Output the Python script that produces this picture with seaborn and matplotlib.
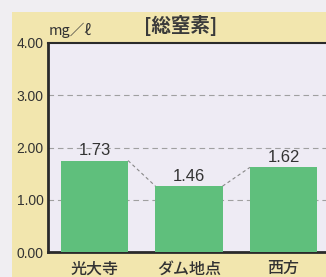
import matplotlib
matplotlib.use("Agg")
import matplotlib.pyplot as plt
import matplotlib.patches as mpatches
import seaborn as sns
import pandas as pd

# ---- data ----
categories = ["光大寺", "ダム地点", "西方"]
bar_heights = [1.75, 1.26, 1.62]          # bar heights as drawn in the reference
value_labels = ["1.73", "1.46", "1.62"]    # printed values
y_ticks = [0.0, 1.0, 2.0, 3.0, 4.0]
y_tick_labels = ["0.00", "1.00", "2.00", "3.00", "4.00"]
title = "[総窒素]"
unit = "mg／ℓ"

sns.set_theme(style="white")
plt.rcParams['font.family'] = ['Liberation Sans', 'Noto Sans CJK JP', 'DejaVu Sans']

df = pd.DataFrame({"site": categories, "value": bar_heights})

fig = plt.figure(figsize=(3.26, 2.77), dpi=100)
fig.patch.set_facecolor("#f0eef2")
# beige panel
fig.patches.append(mpatches.Rectangle((12/326, 0), 1, 265/277, transform=fig.transFigure,
                                      facecolor="#f2e6ae", edgecolor="none", zorder=-5))

ax = fig.add_axes([48/326, 25/277, 1 - 48/326, 209/277])
ax.set_zorder(1)
ax.set_facecolor("#eeebf4")

w = 0.71
sns.barplot(data=df, x="site", y="value", color="#5fbf7c", width=w,
            saturation=1, ax=ax, zorder=3, edgecolor="none", linewidth=0)

# dashed connectors between bar tops
for i in range(len(bar_heights) - 1):
    ax.plot([i + w/2, i + 1 - w/2], [bar_heights[i], bar_heights[i+1]],
            linestyle=(0, (3, 2.5)), color="#888888", linewidth=0.8, zorder=2)

for i, (h, lab) in enumerate(zip(bar_heights, value_labels)):
    ax.annotate(lab, (i, h), xytext=(0, 1.5), textcoords="offset points",
                ha="center", va="bottom", fontsize=12, color="#333333", zorder=4)

ax.set_ylim(0, 4)
ax.set_xlim(-0.492, 2.45)
ax.set_yticks(y_ticks)
ax.set_yticklabels(y_tick_labels, fontsize=10, color="#333333")
for yv in y_ticks[1:-1]:
    ax.axhline(yv, linestyle=(0, (5, 3.5)), color="#a0a0a0", linewidth=0.8, zorder=1)

ax.set_xticks(range(len(categories)))
ax.set_xticklabels(categories, fontsize=11.5, fontweight="medium", color="#333333",
                   family=['Noto Sans CJK JP', 'DejaVu Sans'])
ax.tick_params(axis="both", length=0)
ax.tick_params(axis="y", pad=3)
ax.tick_params(axis="x", pad=6)
ax.set_xlabel("")
ax.set_ylabel("")

for s in ["left", "bottom"]:
    ax.spines[s].set_color("#2a2a2a")
    ax.spines[s].set_linewidth(2)
ax.spines["top"].set_color("#2a2a2a")
ax.spines["top"].set_linewidth(1.5)
ax.spines["right"].set_visible(False)

fig.text(181/326, 1 - 25/277, title, ha="center", va="center", fontsize=14,
         fontweight="bold", color="#3a3a3a", family=['Noto Sans CJK JP', 'DejaVu Sans'])
fig.text(49/326, 1 - 30/277, unit, ha="left", va="center", fontsize=10.5,
         color="#333333", family=['Noto Sans CJK JP', 'DejaVu Sans'])

fig.savefig("out.png", dpi=100, facecolor=fig.get_facecolor())
